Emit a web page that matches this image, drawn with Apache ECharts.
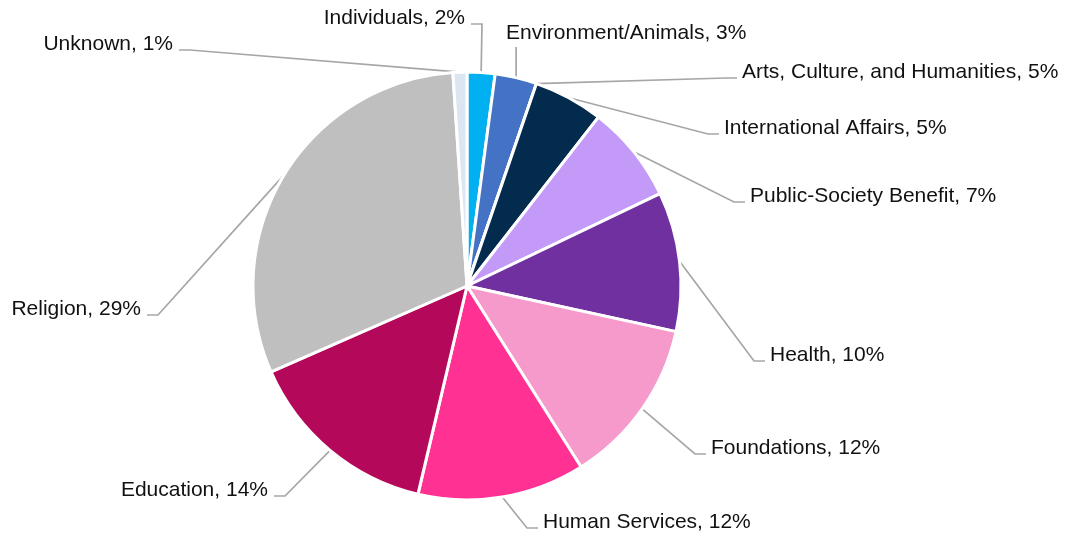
<!DOCTYPE html>
<html>
<head>
<meta charset="utf-8">
<script src="https://cdn.jsdelivr.net/npm/echarts@6/dist/echarts.min.js"></script>
<style>
  html, body { margin: 0; padding: 0; background: #ffffff; }
  #chart { width: 1070px; height: 535px; }
</style>
</head>
<body>
<div id="chart"></div>
<script>
// ---------------- DATA ----------------
const categories = [
  'Individuals',
  'Environment/Animals',
  'Arts, Culture, and Humanities',
  'International Affairs',
  'Public-Society Benefit',
  'Health',
  'Foundations',
  'Human Services',
  'Education',
  'Religion',
  'Unknown'
];
// percentages printed in the labels
const labelPercents = [2, 3, 5, 5, 7, 10, 12, 12, 14, 29, 1];
// slice sizes as drawn in the picture (the Arts slice has no visible wedge)
const sliceValues = [2, 3, 0, 5, 7, 10, 12, 12, 14, 29, 1];

// ---------------- STYLE / LAYOUT ----------------
const sliceColors = [
  '#00B0F0', '#4472C4', '#1F3864', '#022B4D', '#C49AF8', '#7030A0',
  '#F59ACB', '#FF3193', '#B4095A', '#BFBFBF', '#DCE6F2'
];

// label text anchors: x = text edge, y = text middle
const labelAnchors = [
  { x: 465, y: 18,  align: 'right' },
  { x: 506, y: 33,  align: 'left', vertical: true },
  { x: 742, y: 72,  align: 'left' },
  { x: 724, y: 128, align: 'left' },
  { x: 750, y: 196, align: 'left' },
  { x: 770, y: 355, align: 'left' },
  { x: 711, y: 448, align: 'left' },
  { x: 543, y: 522, align: 'left' },
  { x: 268, y: 490, align: 'right' },
  { x: 141, y: 309, align: 'right' },
  { x: 173, y: 44,  align: 'right' }
];

const data = categories.map((name, i) => ({
  name: name,
  value: sliceValues[i],
  itemStyle: { color: sliceColors[i] }
}));

const chart = echarts.init(document.getElementById('chart'), null, { renderer: 'canvas' });

chart.setOption({
  backgroundColor: '#ffffff',
  animation: false,
  series: [{
    type: 'pie',
    center: [467, 286],
    radius: 214,
    startAngle: 90,
    clockwise: true,
    avoidLabelOverlap: false,
    minShowLabelAngle: 0,
    data: data,
    itemStyle: { borderColor: '#ffffff', borderWidth: 3 },
    label: {
      show: true,
      position: 'outside',
      formatter: p => p.name + ', ' + labelPercents[p.dataIndex] + '%',
      fontFamily: '"Liberation Sans", Arial, sans-serif',
      fontSize: 21,
      color: '#111111'
    },
    labelLine: {
      show: true,
      length: 10,
      length2: 10,
      smooth: false,
      lineStyle: { color: '#A6A6A6', width: 1.7 }
    },
    emphasis: { disabled: true },
    labelLayout: function (params) {
      const a = labelAnchors[params.dataIndex];
      const out = { x: a.x, y: a.y, align: a.align, verticalAlign: 'middle' };
      const pts = params.labelLinePoints;
      if (pts && pts.length) {
        const p0 = pts[0];
        if (a.vertical) {
          const top = [p0[0], a.y + 14];
          out.labelLinePoints = [p0, top, top];
        } else if (a.align === 'left') {
          const end = [a.x - 5, a.y + 6];
          out.labelLinePoints = [p0, [end[0] - 11, end[1]], end];
        } else {
          const end = [a.x + 6, a.y + 6];
          out.labelLinePoints = [p0, [end[0] + 11, end[1]], end];
        }
      }
      return out;
    }
  }]
});
</script>
</body>
</html>
